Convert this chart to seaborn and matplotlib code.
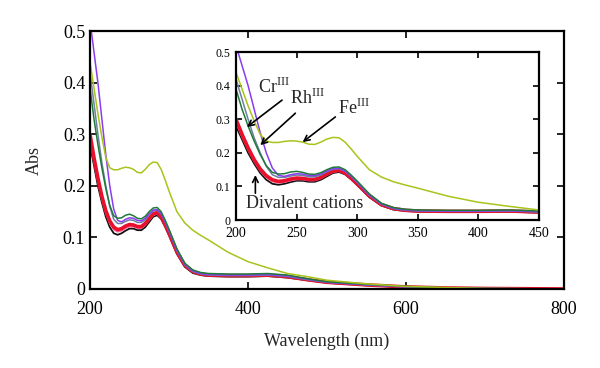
import matplotlib
matplotlib.use("Agg")
import matplotlib.pyplot as plt
import seaborn as sns
import pandas as pd

# wavelengths (nm) shared by all spectra
wl = [200, 205, 210, 215, 220, 225, 230, 235, 240, 245, 250, 255, 260, 265,
      270, 275, 280, 285, 290, 295, 300, 310, 320, 330, 340, 350, 375, 400,
      425, 450, 475, 500, 550, 600, 650, 700, 800]

fe = [0.440, 0.390, 0.340, 0.295, 0.255, 0.235, 0.231, 0.231, 0.234, 0.236,
      0.235, 0.232, 0.226, 0.225, 0.232, 0.241, 0.246, 0.245, 0.232, 0.212,
      0.190, 0.150, 0.128, 0.114, 0.104, 0.095, 0.071, 0.053, 0.041, 0.030,
      0.024, 0.017, 0.010, 0.005, 0.003, 0.001, 0.0]
rh = [0.520, 0.460, 0.400, 0.330, 0.260, 0.200, 0.155, 0.133, 0.130, 0.135,
      0.138, 0.137, 0.133, 0.132, 0.137, 0.146, 0.153, 0.154, 0.146, 0.131,
      0.113, 0.075, 0.048, 0.035, 0.030, 0.028, 0.027, 0.027, 0.028, 0.025,
      0.019, 0.013, 0.008, 0.004, 0.002, 0.001, 0.0]
cr = [0.390, 0.330, 0.280, 0.235, 0.195, 0.162, 0.142, 0.137, 0.138, 0.143,
      0.145, 0.142, 0.137, 0.136, 0.141, 0.150, 0.157, 0.158, 0.150, 0.134,
      0.116, 0.078, 0.050, 0.037, 0.032, 0.030, 0.029, 0.029, 0.030, 0.027,
      0.020, 0.014, 0.009, 0.005, 0.002, 0.001, 0.0]
grey = [0.420, 0.360, 0.300, 0.245, 0.200, 0.160, 0.135, 0.127, 0.127, 0.131,
        0.134, 0.133, 0.129, 0.129, 0.134, 0.144, 0.151, 0.153, 0.145, 0.130,
        0.112, 0.074, 0.047, 0.034, 0.029, 0.027, 0.026, 0.026, 0.027, 0.024,
        0.018, 0.013, 0.008, 0.004, 0.002, 0.001, 0.0]
red = [0.300, 0.255, 0.215, 0.180, 0.152, 0.132, 0.120, 0.115, 0.117, 0.122,
       0.125, 0.124, 0.121, 0.121, 0.127, 0.137, 0.146, 0.148, 0.140, 0.125,
       0.108, 0.072, 0.046, 0.034, 0.029, 0.027, 0.026, 0.026, 0.027, 0.024,
       0.018, 0.013, 0.008, 0.004, 0.002, 0.001, 0.0]
pink = [0.292, 0.248, 0.209, 0.175, 0.147, 0.127, 0.115, 0.111, 0.113, 0.118,
        0.121, 0.121, 0.118, 0.118, 0.124, 0.134, 0.143, 0.146, 0.138, 0.123,
        0.106, 0.070, 0.045, 0.033, 0.028, 0.026, 0.025, 0.025, 0.026, 0.023,
        0.018, 0.013, 0.008, 0.004, 0.002, 0.001, 0.0]
black = [0.280, 0.240, 0.200, 0.168, 0.140, 0.120, 0.108, 0.105, 0.108, 0.113,
         0.117, 0.117, 0.114, 0.114, 0.120, 0.130, 0.140, 0.143, 0.136, 0.121,
         0.104, 0.068, 0.043, 0.031, 0.027, 0.025, 0.024, 0.024, 0.025, 0.022,
         0.017, 0.012, 0.007, 0.004, 0.002, 0.001, 0.0]

# drawing order, colours and widths
spectra = [
    ("black", black, "#111111", 1.3),
    ("pink", pink, "#ff6fa8", 1.3),
    ("red", red, "#e8102a", 2.6),
    ("grey", grey, "#6f7fa0", 1.1),
    ("rh", rh, "#8a3cf0", 1.1),
    ("cr", cr, "#1f7a3a", 1.1),
    ("fe", fe, "#a8c41c", 1.1),
]

sns.set_style("ticks")
plt.rcParams["font.family"] = ["Liberation Serif", "DejaVu Serif"]
plt.rcParams["mathtext.fontset"] = "custom"
plt.rcParams["mathtext.rm"] = "Liberation Serif"

fig = plt.figure(figsize=(6, 3.68), dpi=100)
ax = fig.add_axes([0.15, 0.2147, 0.79, 0.701])
ins = fig.add_axes([0.3933, 0.402, 0.505, 0.4565])

for a in (ax, ins):
    for name, vals, col, lw in spectra:
        df = pd.DataFrame({"wl": wl, "abs": vals})
        sns.lineplot(data=df, x="wl", y="abs", color=col, lw=lw, ax=a)
    a.set_xlabel("")
    a.set_ylabel("")
    a.tick_params(direction="in", top=True, right=True, colors="black")
    for s in a.spines.values():
        s.set_linewidth(1.6)
        s.set_color("black")

ax.set_xlim(200, 800)
ax.set_ylim(0, 0.5)
ax.set_xticks([200, 400, 600, 800])
ax.set_yticks([0, 0.1, 0.2, 0.3, 0.4, 0.5])
ax.set_yticklabels(["0", "0.1", "0.2", "0.3", "0.4", "0.5"])
ax.tick_params(labelsize=13, length=5, width=1.2)
ax.tick_params(axis="x", pad=9)
ax.set_xlabel("Wavelength (nm)", fontsize=13, labelpad=10)
ax.set_ylabel("Abs", fontsize=13, labelpad=14)

ins.set_xlim(200, 450)
ins.set_ylim(0, 0.5)
ins.set_xticks([200, 250, 300, 350, 400, 450])
ins.set_yticks([0, 0.1, 0.2, 0.3, 0.4, 0.5])
ins.set_yticklabels(["0", "0.1", "0.2", "0.3", "0.4", "0.5"])
ins.tick_params(axis="x", labelsize=10, length=4, width=1.2, pad=5)
ins.tick_params(axis="y", labelsize=8.5, length=4, width=1.2, pad=4)

arrow = dict(arrowstyle="->", color="black", lw=1.2, shrinkA=0, shrinkB=0)
ins.annotate("", xy=(209, 0.277), xytext=(238, 0.357), arrowprops=arrow)
ins.text(231, 0.396, r"Cr$^{\mathrm{III}}$", fontsize=13, ha="center", va="center")
ins.annotate("", xy=(220, 0.223), xytext=(249, 0.318), arrowprops=arrow)
ins.text(259, 0.363, r"Rh$^{\mathrm{III}}$", fontsize=13, ha="center", va="center")
ins.annotate("", xy=(255, 0.232), xytext=(282, 0.307), arrowprops=arrow)
ins.text(297, 0.333, r"Fe$^{\mathrm{III}}$", fontsize=13, ha="center", va="center")
ins.annotate("", xy=(216, 0.134), xytext=(216, 0.080), arrowprops=arrow)
ins.text(257, 0.050, "Divalent cations", fontsize=13, ha="center", va="center")

fig.savefig("out.png", dpi=100)
